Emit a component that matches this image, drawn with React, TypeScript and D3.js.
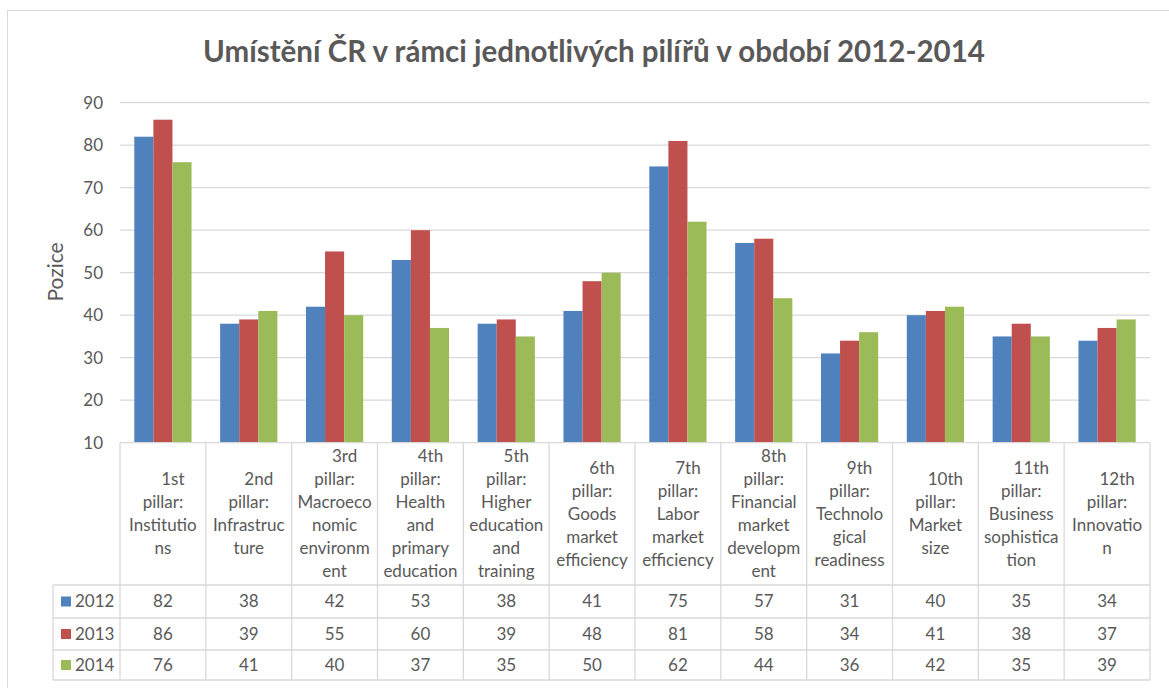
import * as d3 from 'd3';

const TITLE = 'Umístění ČR v rámci jednotlivých pilířů v období 2012-2014';
const Y_LABEL = 'Pozice';
const YEARS = ['2012', '2013', '2014'];
const COLORS = ['#4f81bd', '#c0504d', '#9bbb59'];

// category labels, already broken the way the data table wraps them
const PILLARS = [
  ['1st', 'pillar:', 'Institutio', 'ns'],
  ['2nd', 'pillar:', 'Infrastruc', 'ture'],
  ['3rd', 'pillar:', 'Macroeco', 'nomic', 'environm', 'ent'],
  ['4th', 'pillar:', 'Health', 'and', 'primary', 'education'],
  ['5th', 'pillar:', 'Higher', 'education', 'and', 'training'],
  ['6th', 'pillar:', 'Goods', 'market', 'efficiency'],
  ['7th', 'pillar:', 'Labor', 'market', 'efficiency'],
  ['8th', 'pillar:', 'Financial', 'market', 'developm', 'ent'],
  ['9th', 'pillar:', 'Technolo', 'gical', 'readiness'],
  ['10th', 'pillar:', 'Market', 'size'],
  ['11th', 'pillar:', 'Business', 'sophistica', 'tion'],
  ['12th', 'pillar:', 'Innovatio', 'n'],
];

const V2012 = [82, 38, 42, 53, 38, 41, 75, 57, 31, 40, 35, 34];
const V2013 = [86, 39, 55, 60, 39, 48, 81, 58, 34, 41, 38, 37];
const V2014 = [76, 41, 40, 37, 35, 50, 62, 44, 36, 42, 35, 39];
const SERIES = [V2012, V2013, V2014];

const Y_TICKS = [10, 20, 30, 40, 50, 60, 70, 80, 90];

const W = 1169;
const H = 688;
const PLOT_L = 120;
const PLOT_R = 1150;
const PLOT_T = 102.7;
const PLOT_B = 442.7;
const TABLE_L = 53;
const HEADER_B = 585;
const ROW_BOUNDS = [585, 618, 650, 680];
const LINE_H = 23;

const FONT = 'Lato, "Open Sans", sans-serif';
const TEXT = '#595959';
const GRID = '#d9d9d9';

export default function App() {
  const idx = PILLARS.map((_, i) => String(i));
  const x = d3.scaleBand<string>().domain(idx).range([PLOT_L, PLOT_R]);
  const bw = x.bandwidth();
  const inner = d3.scaleBand<string>().domain(YEARS).range([0, bw]).paddingOuter(0.75).paddingInner(0);
  const y = d3.scaleLinear().domain([10, 90]).range([PLOT_B, PLOT_T]);

  const headerMid = (PLOT_B + HEADER_B) / 2;

  return (
    <svg width={W} height={H} style={{ position: 'absolute', left: 0, top: 0, background: '#fff' }} fontFamily={FONT}>
      <rect x={7.5} y={10.5} width={W} height={H} fill="#fff" stroke={GRID} strokeWidth={1} />

      <text x={594} y={62} textAnchor="middle" fontSize={29.5} fontWeight="bold" fill={TEXT}>
        {TITLE}
      </text>

      {/* gridlines + y ticks */}
      {Y_TICKS.map((t) => (
        <g key={t}>
          {t > 10 && <line x1={PLOT_L} x2={PLOT_R} y1={y(t)} y2={y(t)} stroke={GRID} strokeWidth={1.3} />}
          <text x={103} y={y(t)} dy="0.35em" textAnchor="end" fontSize={17} fill={TEXT}>
            {t}
          </text>
        </g>
      ))}

      <text
        transform={`translate(63,272) rotate(-90)`}
        textAnchor="middle"
        fontSize={21}
        fill={TEXT}
      >
        {Y_LABEL}
      </text>

      {/* bars */}
      {SERIES.map((vals, s) =>
        vals.map((v, i) => (
          <rect
            key={`${s}-${i}`}
            x={(x(String(i)) ?? 0) + (inner(YEARS[s]) ?? 0)}
            y={y(v)}
            width={inner.bandwidth()}
            height={y(10) - y(v)}
            fill={COLORS[s]}
          />
        ))
      )}

      {/* data table lines */}
      <line x1={PLOT_L} x2={PLOT_R} y1={PLOT_B} y2={PLOT_B} stroke={GRID} strokeWidth={1.3} />
      {ROW_BOUNDS.map((rb) => (
        <line key={rb} x1={TABLE_L} x2={PLOT_R} y1={rb} y2={rb} stroke={GRID} strokeWidth={1.3} />
      ))}
      <line x1={TABLE_L} x2={TABLE_L} y1={HEADER_B} y2={ROW_BOUNDS[3]} stroke={GRID} strokeWidth={1.3} />
      {idx.concat(['12']).map((k, i) => {
        const xx = PLOT_L + i * bw;
        return <line key={k} x1={xx} x2={xx} y1={PLOT_B} y2={ROW_BOUNDS[3]} stroke={GRID} strokeWidth={1.3} />;
      })}

      {/* header labels */}
      {PILLARS.map((lines, i) => {
        const cx = (x(String(i)) ?? 0) + bw / 2;
        const top = headerMid - ((lines.length - 1) * LINE_H) / 2;
        return (
          <text key={i} textAnchor="middle" fontSize={17} fill={TEXT}>
            {lines.map((ln, j) => (
              <tspan key={j} x={cx + (j === 0 ? 10 : 0)} y={top + j * LINE_H} dy="0.35em">
                {ln}
              </tspan>
            ))}
          </text>
        );
      })}

      {/* value rows */}
      {SERIES.map((vals, s) => {
        const cy = (ROW_BOUNDS[s] + ROW_BOUNDS[s + 1]) / 2;
        return (
          <g key={s}>
            <rect x={61} y={cy - 5} width={10} height={10} fill={COLORS[s]} />
            <text x={75} y={cy} dy="0.35em" fontSize={17} fill={TEXT}>
              {YEARS[s]}
            </text>
            {vals.map((v, i) => (
              <text
                key={i}
                x={(x(String(i)) ?? 0) + bw / 2}
                y={cy}
                dy="0.35em"
                textAnchor="middle"
                fontSize={17}
                fill={TEXT}
              >
                {v}
              </text>
            ))}
          </g>
        );
      })}
    </svg>
  );
}
